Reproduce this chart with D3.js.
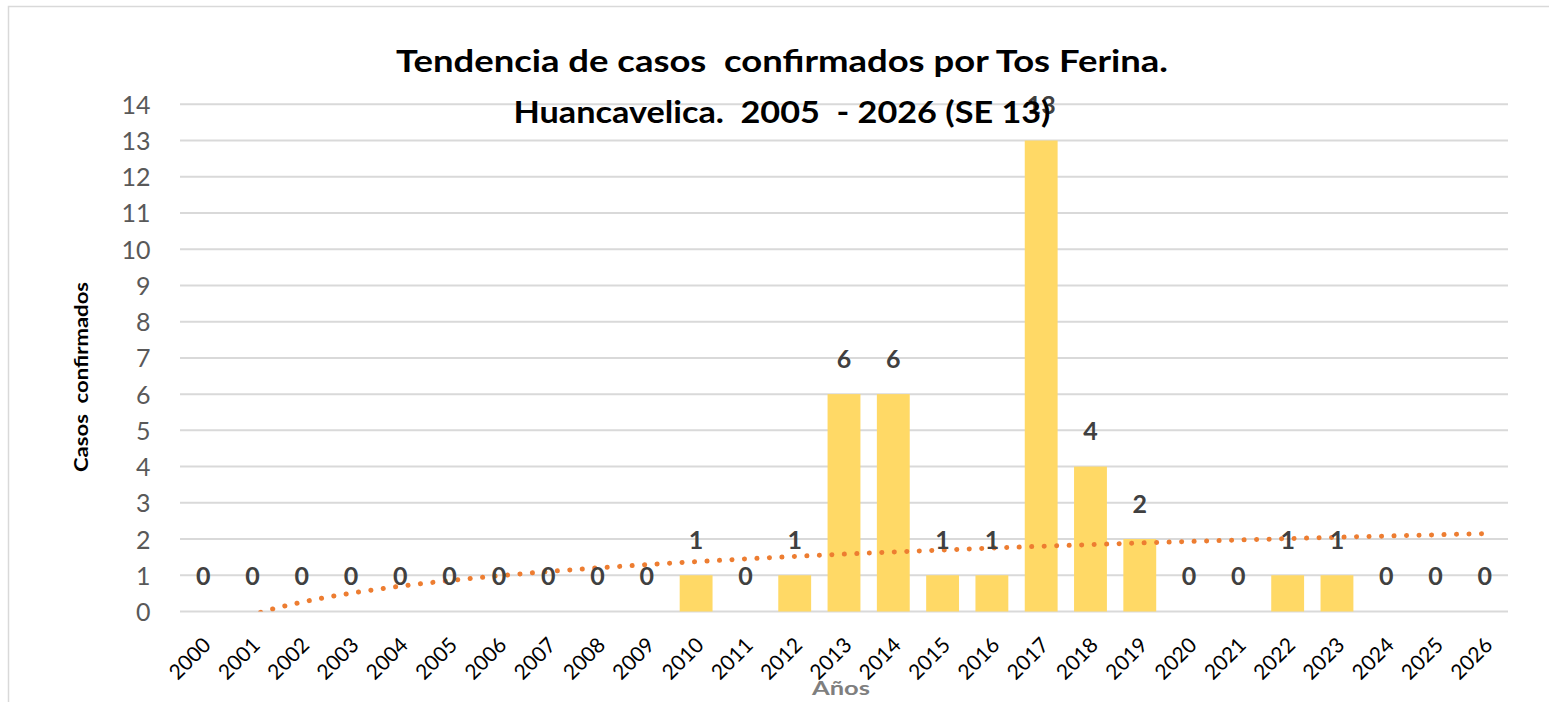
<!DOCTYPE html>
<html>
<head>
<meta charset="utf-8">
<script src="https://cdn.jsdelivr.net/npm/d3@7"></script>
<style>
  body { margin: 0; background: #fff; }
  svg { display: block; }
  text { font-family: Lato, "Open Sans", sans-serif; white-space: pre; }
</style>
</head>
<body>
<svg id="chart" width="1549" height="702"></svg>
<script>
// Confirmed whooping-cough (Tos Ferina) cases per year, Huancavelica
const years = ["2000","2001","2002","2003","2004","2005","2006","2007","2008","2009",
               "2010","2011","2012","2013","2014","2015","2016","2017","2018","2019",
               "2020","2021","2022","2023","2024","2025","2026"];
const cases = [0,0,0,0,0,0,0,0,0,0,
               1,0,1,6,6,1,1,13,4,2,
               0,0,1,1,0,0,0];
const yTickValues = [0,1,2,3,4,5,6,7,8,9,10,11,12,13,14];
const titleLines = ["Tendencia de casos  confirmados por Tos Ferina.",
                    "Huancavelica.  2005  - 2026 (SE 13)"];
const titleWidths = [772, 537];
const yAxisTitle = "Casos  confirmados";
const xAxisTitle = "Años";

const svg = d3.select("#chart");
const plot = { left: 178.5, right: 1509.5, top: 104.3, bottom: 611.5 };

// chart frame
svg.append("rect")
  .attr("x", 8.5).attr("y", 6.5).attr("width", 1600).attr("height", 760)
  .attr("fill", "none").attr("stroke", "#d9d9d9").attr("stroke-width", 1.5);

const x = d3.scaleBand().domain(years).range([plot.left, plot.right]).paddingInner(1/3).paddingOuter(1/6);
const y = d3.scaleLinear().domain([0, 14]).range([plot.bottom, plot.top]);

// horizontal gridlines
svg.append("g").selectAll("line").data(yTickValues).join("line")
  .attr("x1", plot.left + 1.5).attr("x2", plot.right - 1.5)
  .attr("y1", d => y(d)).attr("y2", d => y(d))
  .attr("stroke", "#d9d9d9").attr("stroke-width", 2);

// y axis labels
const yAxis = d3.axisLeft(y).tickValues(yTickValues).tickSize(0).tickPadding(0);
const gy = svg.append("g").attr("transform", `translate(${plot.left - 28},0)`).call(yAxis);
gy.select(".domain").remove();
gy.selectAll("text")
  .attr("font-family", "Lato, sans-serif").attr("font-size", 25)
  .attr("fill", "#595959").attr("dy", "0.36em");

// x axis labels (rotated)
const xAxis = d3.axisBottom(x).tickSize(0).tickPadding(0);
const gx = svg.append("g").attr("transform", `translate(0,${plot.bottom})`).call(xAxis);
gx.select(".domain").remove();
gx.selectAll("text")
  .attr("font-family", "Lato, sans-serif").attr("font-size", 21).attr("fill", "#000")
  .attr("text-anchor", "end").attr("dy", 0).attr("y", 0)
  .attr("transform", "translate(9,35) rotate(-45)");

// bars
svg.append("g").selectAll("rect").data(years).join("rect")
  .attr("x", d => x(d)).attr("width", x.bandwidth())
  .attr("y", (d, i) => y(cases[i]))
  .attr("height", (d, i) => y(0) - y(cases[i]))
  .attr("fill", "#ffd966");

// logarithmic trendline (least squares on ln(index))
const n = cases.length;
const lx = d3.range(1, n + 1).map(Math.log);
const mx = d3.mean(lx), my = d3.mean(cases);
const slope = d3.sum(lx, (v, i) => (v - mx) * (cases[i] - my)) / d3.sum(lx, v => (v - mx) ** 2);
const intercept = my - slope * mx;
const tx = d3.scaleLinear().domain([1, n])
  .range([x(years[0]) + x.bandwidth() / 2, x(years[n - 1]) + x.bandwidth() / 2]);
const trendPts = d3.range(1, n + 0.001, 0.05).map(t => [t, slope * Math.log(t) + intercept]);

svg.append("clipPath").attr("id", "plotClip").append("rect")
  .attr("x", plot.left).attr("y", plot.top - 5)
  .attr("width", plot.right - plot.left).attr("height", plot.bottom - plot.top + 5);

svg.append("path")
  .datum(trendPts)
  .attr("clip-path", "url(#plotClip)")
  .attr("d", d3.line().x(d => tx(d[0])).y(d => y(d[1])))
  .attr("fill", "none").attr("stroke", "#ed7d31").attr("stroke-width", 5)
  .attr("stroke-linecap", "round").attr("stroke-dasharray", "0.1 12.4");

// value labels
svg.append("g").selectAll("text").data(years).join("text")
  .attr("x", d => x(d) + x.bandwidth() / 2)
  .attr("y", (d, i) => y(cases[i]) - 26.5)
  .attr("text-anchor", "middle")
  .attr("font-family", "Lato, sans-serif").attr("font-weight", 700).attr("font-size", 25)
  .attr("fill", "#404040")
  .text((d, i) => cases[i]);

// title
svg.append("g").selectAll("text").data(titleLines).join("text")
  .attr("x", 782).attr("y", (d, i) => 72 + i * 51)
  .attr("text-anchor", "middle")
  .attr("font-family", "Lato, sans-serif").attr("font-weight", 700).attr("font-size", 31)
  .attr("textLength", (d, i) => titleWidths[i]).attr("lengthAdjust", "spacingAndGlyphs")
  .attr("fill", "#000")
  .text(d => d);

// axis titles
svg.append("text")
  .attr("transform", "translate(88,377) rotate(-90)")
  .attr("text-anchor", "middle")
  .attr("font-family", "Lato, sans-serif").attr("font-weight", 700).attr("font-size", 19)
  .attr("textLength", 190).attr("lengthAdjust", "spacingAndGlyphs")
  .attr("fill", "#000")
  .text(yAxisTitle);

svg.append("text")
  .attr("x", 841).attr("y", 695)
  .attr("text-anchor", "middle")
  .attr("font-family", "Lato, sans-serif").attr("font-weight", 700).attr("font-size", 19)
  .attr("textLength", 58).attr("lengthAdjust", "spacingAndGlyphs")
  .attr("fill", "#7f7f7f")
  .text(xAxisTitle);
</script>
</body>
</html>
